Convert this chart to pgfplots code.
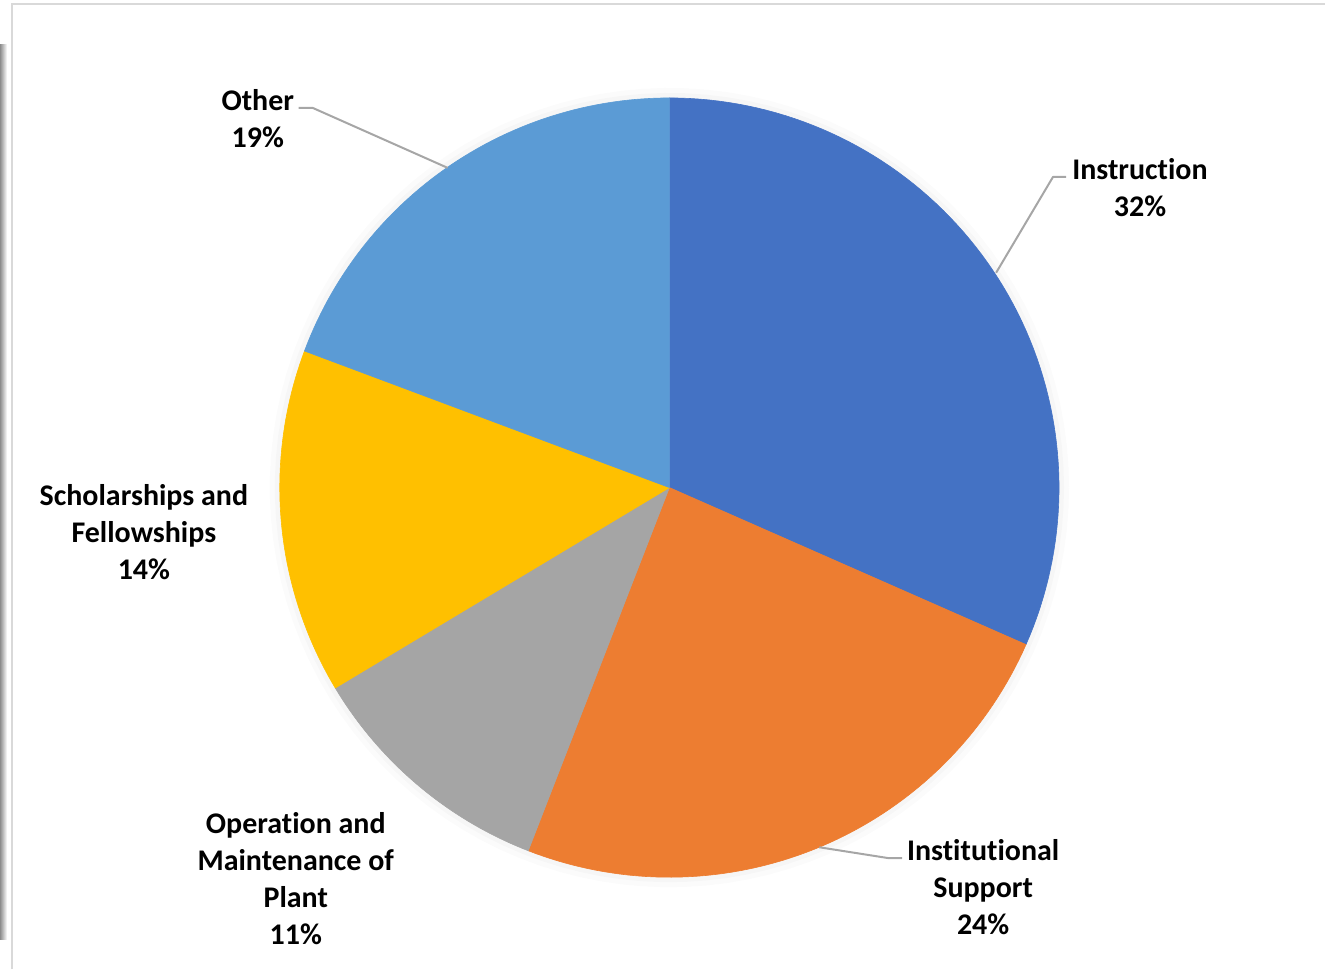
\documentclass[border=0pt]{standalone}
\usepackage{pgfplots}
\pgfplotsset{compat=1.18}
\usepackage{fontspec}
\setmainfont{Carlito}[RawFeature={-liga;-clig;-dlig}]
\newcommand\ti{t\kern0pt i}
\definecolor{cInstr}{HTML}{4472C4}
\definecolor{cInst}{HTML}{ED7D31}
\definecolor{cOper}{HTML}{A5A5A5}
\definecolor{cSchol}{HTML}{FFC000}
\definecolor{cOther}{HTML}{5B9BD5}
\definecolor{leader}{HTML}{A6A6A6}
\definecolor{frame}{HTML}{D9D9D9}
% Pie shares (percent) and their slice angles (clockwise from the top)
% Instruction 31.6 : 90.00 -> -23.76
% Institutional Support 24.3 : -23.76 -> -111.24
% Operation and Maintenance of Plant 10.5 : -111.24 -> -149.04
% Scholarships and Fellowships 14.3 : -149.04 -> -200.52
% Other 19.3 : -200.52 -> -270.00
\begin{document}
\begin{tikzpicture}
\begin{axis}[
  width=663pt, height=485pt, scale only axis,
  xmin=0, xmax=1326, ymin=0, ymax=970, y dir=reverse,
  hide axis, clip=false,
  every axis plot/.append style={line join=round},
]
\path (axis cs:0,0) rectangle (axis cs:1326,970);
% frame
\draw[frame, line width=1.2pt] (axis cs:12,970) -- (axis cs:12,4) -- (axis cs:1326,4);
\fill[left color=black!45, right color=white] (axis cs:0,45) rectangle (axis cs:7,940);
% soft shadow
\addplot[draw=black, opacity=0.015, line width=7pt, samples=120, domain=0:360, variable=\t] ({670+393*cos(t)}, {488-393*sin(t)});
\addplot[draw=black, opacity=0.02, line width=4pt, samples=120, domain=0:360, variable=\t] ({670+391*cos(t)}, {488-391*sin(t)});
% slices
\addplot[fill=cInstr, draw=cInstr, line width=0.3pt, samples=80, domain=-23.76:90, variable=\t] ({670+390*cos(t)}, {488-390*sin(t)}) -- (axis cs:670,488) -- cycle;
\addplot[fill=cInst, draw=cInst, line width=0.3pt, samples=70, domain=-111.24:-23.76, variable=\t] ({670+390*cos(t)}, {488-390*sin(t)}) -- (axis cs:670,488) -- cycle;
\addplot[fill=cOper, draw=cOper, line width=0.3pt, samples=40, domain=-149.04:-111.24, variable=\t] ({670+390*cos(t)}, {488-390*sin(t)}) -- (axis cs:670,488) -- cycle;
\addplot[fill=cSchol, draw=cSchol, line width=0.3pt, samples=50, domain=-200.52:-149.04, variable=\t] ({670+390*cos(t)}, {488-390*sin(t)}) -- (axis cs:670,488) -- cycle;
\addplot[fill=cOther, draw=cOther, line width=0.3pt, samples=60, domain=-270:-200.52, variable=\t] ({670+390*cos(t)}, {488-390*sin(t)}) -- (axis cs:670,488) -- cycle;
% leader lines
\addplot[leader, line width=1pt, mark=none] coordinates {(299,108) (313,108) (448,168)};
\addplot[leader, line width=1pt, mark=none] coordinates {(1067,177) (1054,177) (997,273)};
\addplot[leader, line width=1pt, mark=none] coordinates {(820,848) (890,859) (903,859)};
% labels
\begin{scope}[every node/.style={font=\fontsize{15}{18.5}\selectfont\bfseries, align=center, text=black, inner sep=0pt}]
\node at (axis cs:258,119) {Other\\19\%};
\node at (axis cs:1141,188) {Instruc\ti on\\32\%};
\node at (axis cs:984,888) {Ins\ti tu\ti onal\\Support\\24\%};
\node at (axis cs:296,879) {Opera\ti on and\\Maintenance of\\Plant\\11\%};
\node at (axis cs:144,533) {Scholarships and\\Fellowships\\14\%};
\end{scope}
\end{axis}
\end{tikzpicture}
\end{document}
